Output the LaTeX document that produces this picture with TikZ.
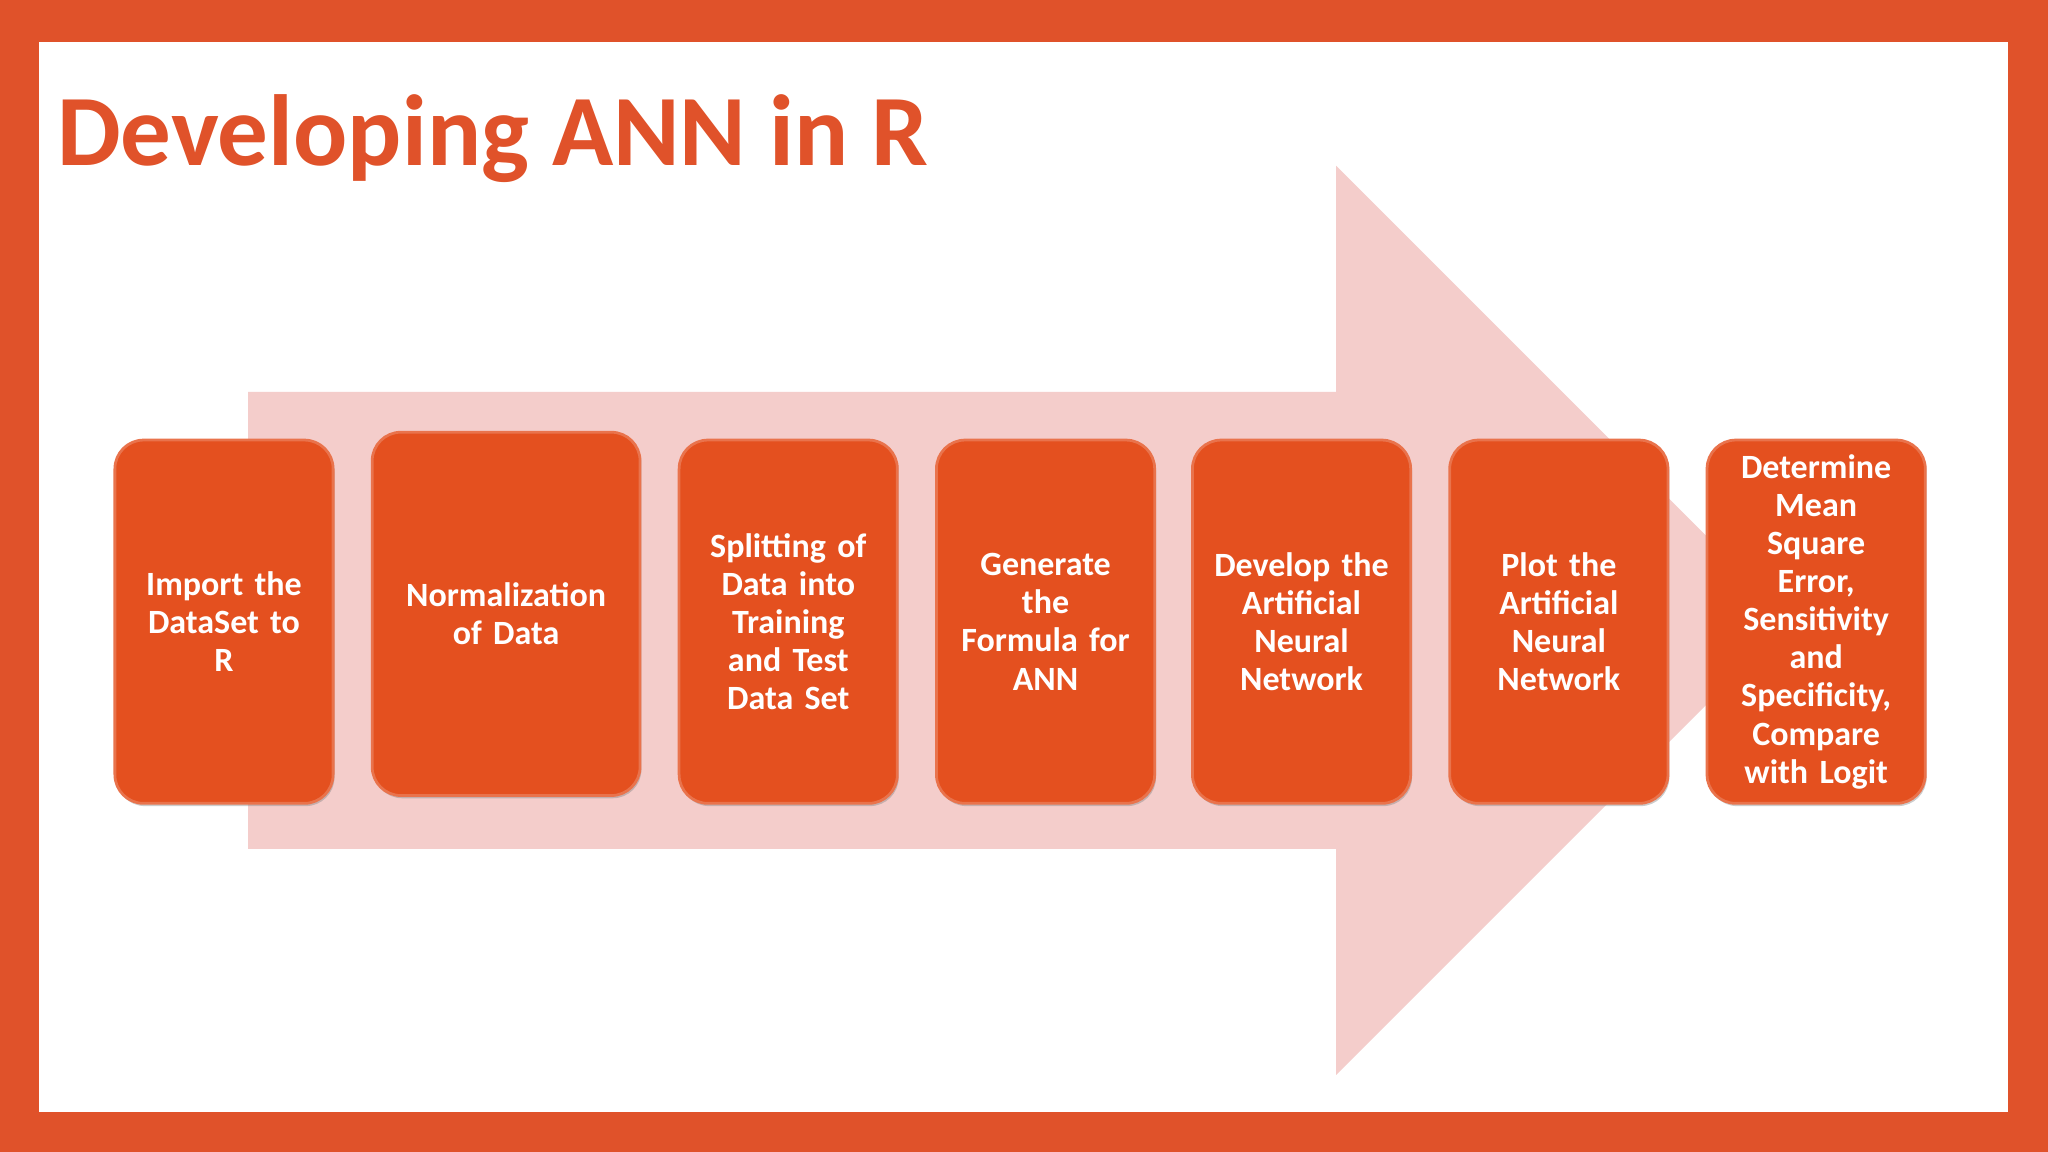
\documentclass[tikz,border=0pt]{standalone}
\usepackage{fontspec}
\setmainfont{Carlito}
\usetikzlibrary{shadows}
\definecolor{frame}{HTML}{E0522A}
\definecolor{boxc}{HTML}{E4501F}
\definecolor{pinkc}{HTML}{F4CDCB}
\begin{document}
\begin{tikzpicture}[x=0.01cm,y=-0.01cm,
 stepbox/.style={draw=boxc!80!white,line width=0.6pt,fill=boxc,rounded corners=0.22cm,text=white,
  font=\fontsize{7.4}{8.3}\selectfont\bfseries,align=center,inner sep=1pt,
  drop shadow={shadow xshift=0.3pt,shadow yshift=-0.6pt,opacity=0.4}}]
\useasboundingbox (0,0) rectangle (1568,882);
\fill[frame] (0,0) rectangle (1568,882);
\fill[white] (30,32) rectangle (1537,851);
\node[anchor=base west,text=frame,font=\fontsize{22}{26}\selectfont\bfseries,inner sep=0] (title) at (43,127) {Developing ANN in R};
\fill[pinkc] (190,300) -- (1023,300) -- (1023,127) -- (1371,475) -- (1023,823) -- (1023,650) -- (190,650) -- cycle;
\newcommand\bx[6]{\node[stepbox,minimum width=#3cm,minimum height=2.78cm,text width=#3cm-0.12cm] (#5) at (#1,#2) {#6};}
\bx{171.5}{476}{1.67}{}{b1}{Import the\\DataSet to\\R}
\bx{387.5}{470}{2.05}{}{b2}{Normalization\\of Data}
\bx{603.5}{476}{1.67}{}{b3}{Splitting of\\Data into\\Training\\and Test\\Data Set}
\bx{800.5}{476}{1.67}{}{b4}{Generate\\the\\Formula for\\ANN}
\bx{996.5}{476}{1.67}{}{b5}{Develop the\\Artificial\\Neural\\Network}
\bx{1193.5}{476}{1.67}{}{b6}{Plot the\\Artificial\\Neural\\Network}
\bx{1390.5}{476}{1.67}{}{b7}{Determine\\Mean\\Square\\Error,\\Sensitivity\\and\\Specificity,\\Compare\\with Logit}
\end{tikzpicture}
\end{document}
